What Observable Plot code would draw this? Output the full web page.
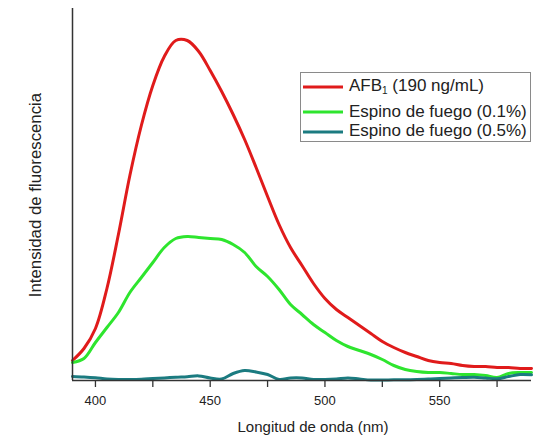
<!DOCTYPE html>
<html><head><meta charset="utf-8">
<script src="https://cdn.jsdelivr.net/npm/d3@7"></script>
<script src="https://cdn.jsdelivr.net/npm/@observablehq/plot@0.6"></script>
<style>
body{margin:0;background:#fff;font-family:"Liberation Sans",Arial,sans-serif;color:#222;}
#chart{width:548px;height:438px;}
</style>
</head><body>
<div id="chart"></div>
<script>
// Wavelength grid (nm)
const wavelengths = [390,395,400,405,410,415,420,425,430,435,440,445,450,455,460,465,470,475,480,485,490,495,500,505,510,515,520,525,530,535,540,545,550,555,560,565,570,575,580,585,590];
// Fluorescence intensity (arbitrary units)
const afb1 = [20,32,52,92,146,205,255,295,324,340,340,329,310,289,266,241,213,184,156,133,115,97,82,71,63,55,47,39,33,28,24,20,18,17,15,14,14,13,13,12,12];
const espino01 = [18,22,38,53,68,88,103,118,133,142,144,143,142,141,136,128,114,104,91,76,66,56,48,40,34,30,26,21,15,11,9,8,8,7,6,6,5,3,7,8,8];
const espino05 = [4,3.5,2.7,1.5,1,1,1.3,2,2.6,3.3,3.8,4.6,2.5,1.5,7,10,8.5,6,1,2.5,2.5,1,1,1.5,2.5,1.5,0.5,0.5,0.7,0.7,1,1.5,2,2.5,3,3.3,2.5,1.7,4,6,5.7];
const seriesNames = ["AFB1 (190 ng/mL)", "Espino de fuego (0.1%)", "Espino de fuego (0.5%)"];
const seriesColors = ["#e01b1b", "#2ee52e", "#1b7b80"];
const xTicks = [400,425,450,475,500,525,550,575];

const allSeries = [afb1, espino01, espino05];
const rows = [];
allSeries.forEach((vals, i) => vals.forEach((v, j) => rows.push({s: seriesNames[i], x: wavelengths[j], y: v})));

const plot = Plot.plot({
  width: 548, height: 438,
  marginLeft: 72, marginRight: 17, marginTop: 8, marginBottom: 58,
  style: {fontFamily: '"Liberation Sans", Arial, sans-serif', color: "#222", background: "#fff"},
  x: {domain: [390, 590]},
  y: {domain: [0, 372], axis: null},
  color: {domain: seriesNames, range: seriesColors},
  marks: [
    Plot.axisX(xTicks, {tickSize: 7, tickPadding: 8, fontSize: 13, label: null,
      tickFormat: d => d % 50 === 0 ? String(d) : "", stroke: "#333", strokeWidth: 1.3}),
    Plot.lineY(rows, {x: "x", y: "y", z: "s", stroke: "s", strokeWidth: 3, curve: "catmull-rom"}),
    Plot.ruleY([0], {stroke: "#333", strokeWidth: 1.5}),
    Plot.ruleX([390], {stroke: "#333", strokeWidth: 1.5})
  ]
});
document.getElementById("chart").appendChild(plot);

const svg = d3.select(plot);
svg.append("text").attr("x", 313).attr("y", 432).attr("text-anchor", "middle")
  .attr("font-size", 15).attr("fill", "#222").text("Longitud de onda (nm)");
svg.append("text").attr("transform", "translate(41,195) rotate(-90)").attr("text-anchor", "middle")
  .attr("font-size", 16.8).attr("fill", "#222").text("Intensidad de fluorescencia");

// Legend
const lg = svg.append("g").attr("text-anchor", "start");
lg.append("rect").attr("x", 300.5).attr("y", 72.5).attr("width", 230).attr("height", 69)
  .attr("fill", "#fff").attr("stroke", "#8a8a8a").attr("stroke-width", 1);
const lineY = [87, 112, 132];
const baseY = [91, 117, 136];
seriesNames.forEach((n, i) => {
  lg.append("line").attr("x1", 303).attr("x2", 343).attr("y1", lineY[i]).attr("y2", lineY[i])
    .attr("stroke", seriesColors[i]).attr("stroke-width", 3);
  const t = lg.append("text").attr("x", 349).attr("y", baseY[i]).attr("text-anchor", "start")
    .attr("font-size", 17).attr("fill", "#222");
  if (i === 0) {
    t.append("tspan").text("AFB");
    t.append("tspan").attr("font-size", 10).attr("dy", 3).text("1");
    t.append("tspan").attr("dy", -3).text(" (190 ng/mL)");
  } else {
    t.text(n);
  }
});
</script>
</body></html>
